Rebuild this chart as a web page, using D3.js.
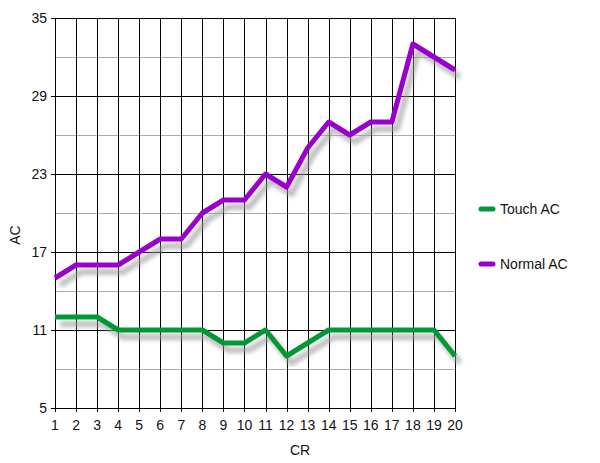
<!DOCTYPE html>
<html><head><meta charset="utf-8">
<script src="https://cdn.jsdelivr.net/npm/d3@7"></script>
<style>body{margin:0;background:#fff}svg{display:block}text{font-family:"Liberation Sans",Arial,sans-serif}</style>
</head><body><svg id="c" width="600" height="463"></svg>
<script>
const categories = [1,2,3,4,5,6,7,8,9,10,11,12,13,14,15,16,17,18,19,20];
const touchAC = [12,12,12,11,11,11,11,11,10,10,11,9,10,11,11,11,11,11,11,9];
const normalAC = [15,16,16,16,17,18,18,20,21,21,23,22,25,27,26,27,27,33,32,31];
const yTicks = [5,11,17,23,29,35];
const yMinor = [8,14,20,26,32];
const seriesNames = ["Touch AC","Normal AC"];
const seriesColors = ["#009933","#9900cc"];

const svg = d3.select("#c");
const x = d3.scaleLinear().domain([1,20]).range([55,455]);
const y = d3.scaleLinear().domain([5,35]).range([408,18]);

const defs = svg.append("defs");
defs.append("filter").attr("id","blur").attr("x","-10%").attr("y","-10%").attr("width","120%").attr("height","120%")
  .append("feGaussianBlur").attr("stdDeviation",2);

// minor grid
svg.append("g").selectAll("line").data(yMinor).join("line")
  .attr("x1",x(1)).attr("x2",x(20)).attr("y1",d=>y(d)).attr("y2",d=>y(d))
  .attr("stroke","#aaa").attr("stroke-width",1).attr("shape-rendering","crispEdges");
// major horizontal grid
svg.append("g").selectAll("line").data(yTicks).join("line")
  .attr("x1",x(1)-4).attr("x2",x(20)).attr("y1",d=>y(d)).attr("y2",d=>y(d))
  .attr("stroke","#000").attr("stroke-width",1).attr("shape-rendering","crispEdges");
// vertical grid
svg.append("g").selectAll("line").data(categories).join("line")
  .attr("x1",d=>Math.round(x(d))).attr("x2",d=>Math.round(x(d))).attr("y1",y(35)).attr("y2",y(5)+4)
  .attr("stroke","#000").attr("stroke-width",1).attr("shape-rendering","crispEdges");

// tick labels
svg.append("g").selectAll("text").data(yTicks).join("text")
  .attr("x",47).attr("y",d=>y(d)+5).attr("text-anchor","end").attr("font-size",14).attr("fill","#111").text(d=>d);
svg.append("g").selectAll("text").data(categories).join("text")
  .attr("x",d=>x(d)).attr("y",430).attr("text-anchor","middle").attr("font-size",14).attr("fill","#111").text(d=>d);

// axis titles
svg.append("text").attr("x",300).attr("y",455).attr("text-anchor","middle").attr("font-size",14).attr("fill","#111").text("CR");
svg.append("text").attr("transform","translate(20,235) rotate(-90)").attr("text-anchor","middle").attr("font-size",14).attr("fill","#111").text("AC");

const line = d3.line().x((d,i)=>x(categories[i])).y(d=>y(d));
const series = [touchAC, normalAC];

// shadows
series.forEach(s=>{
  svg.append("path").attr("d",line(s)).attr("fill","none").attr("stroke","#999").attr("stroke-opacity",0.65)
    .attr("stroke-width",6).attr("stroke-linejoin","round").attr("transform","translate(5,7)").attr("filter","url(#blur)");
});
series.forEach((s,i)=>{
  svg.append("path").attr("d",line(s)).attr("fill","none").attr("stroke",seriesColors[i])
    .attr("stroke-width",5).attr("stroke-linejoin","round");
});

// legend
const legY = [209,264];
seriesNames.forEach((n,i)=>{
  const g = svg.append("g");
  g.append("line").attr("x1",484).attr("x2",496).attr("y1",legY[i]+6).attr("y2",legY[i]+6)
    .attr("stroke","#999").attr("stroke-opacity",0.6).attr("stroke-width",4).attr("filter","url(#blur)");
  g.append("line").attr("x1",481).attr("x2",493).attr("y1",legY[i]).attr("y2",legY[i])
    .attr("stroke",seriesColors[i]).attr("stroke-width",5).attr("stroke-linecap","round");
  g.append("text").attr("x",500).attr("y",legY[i]+5).attr("font-size",14).attr("fill","#111").text(n);
});
</script></body></html>
